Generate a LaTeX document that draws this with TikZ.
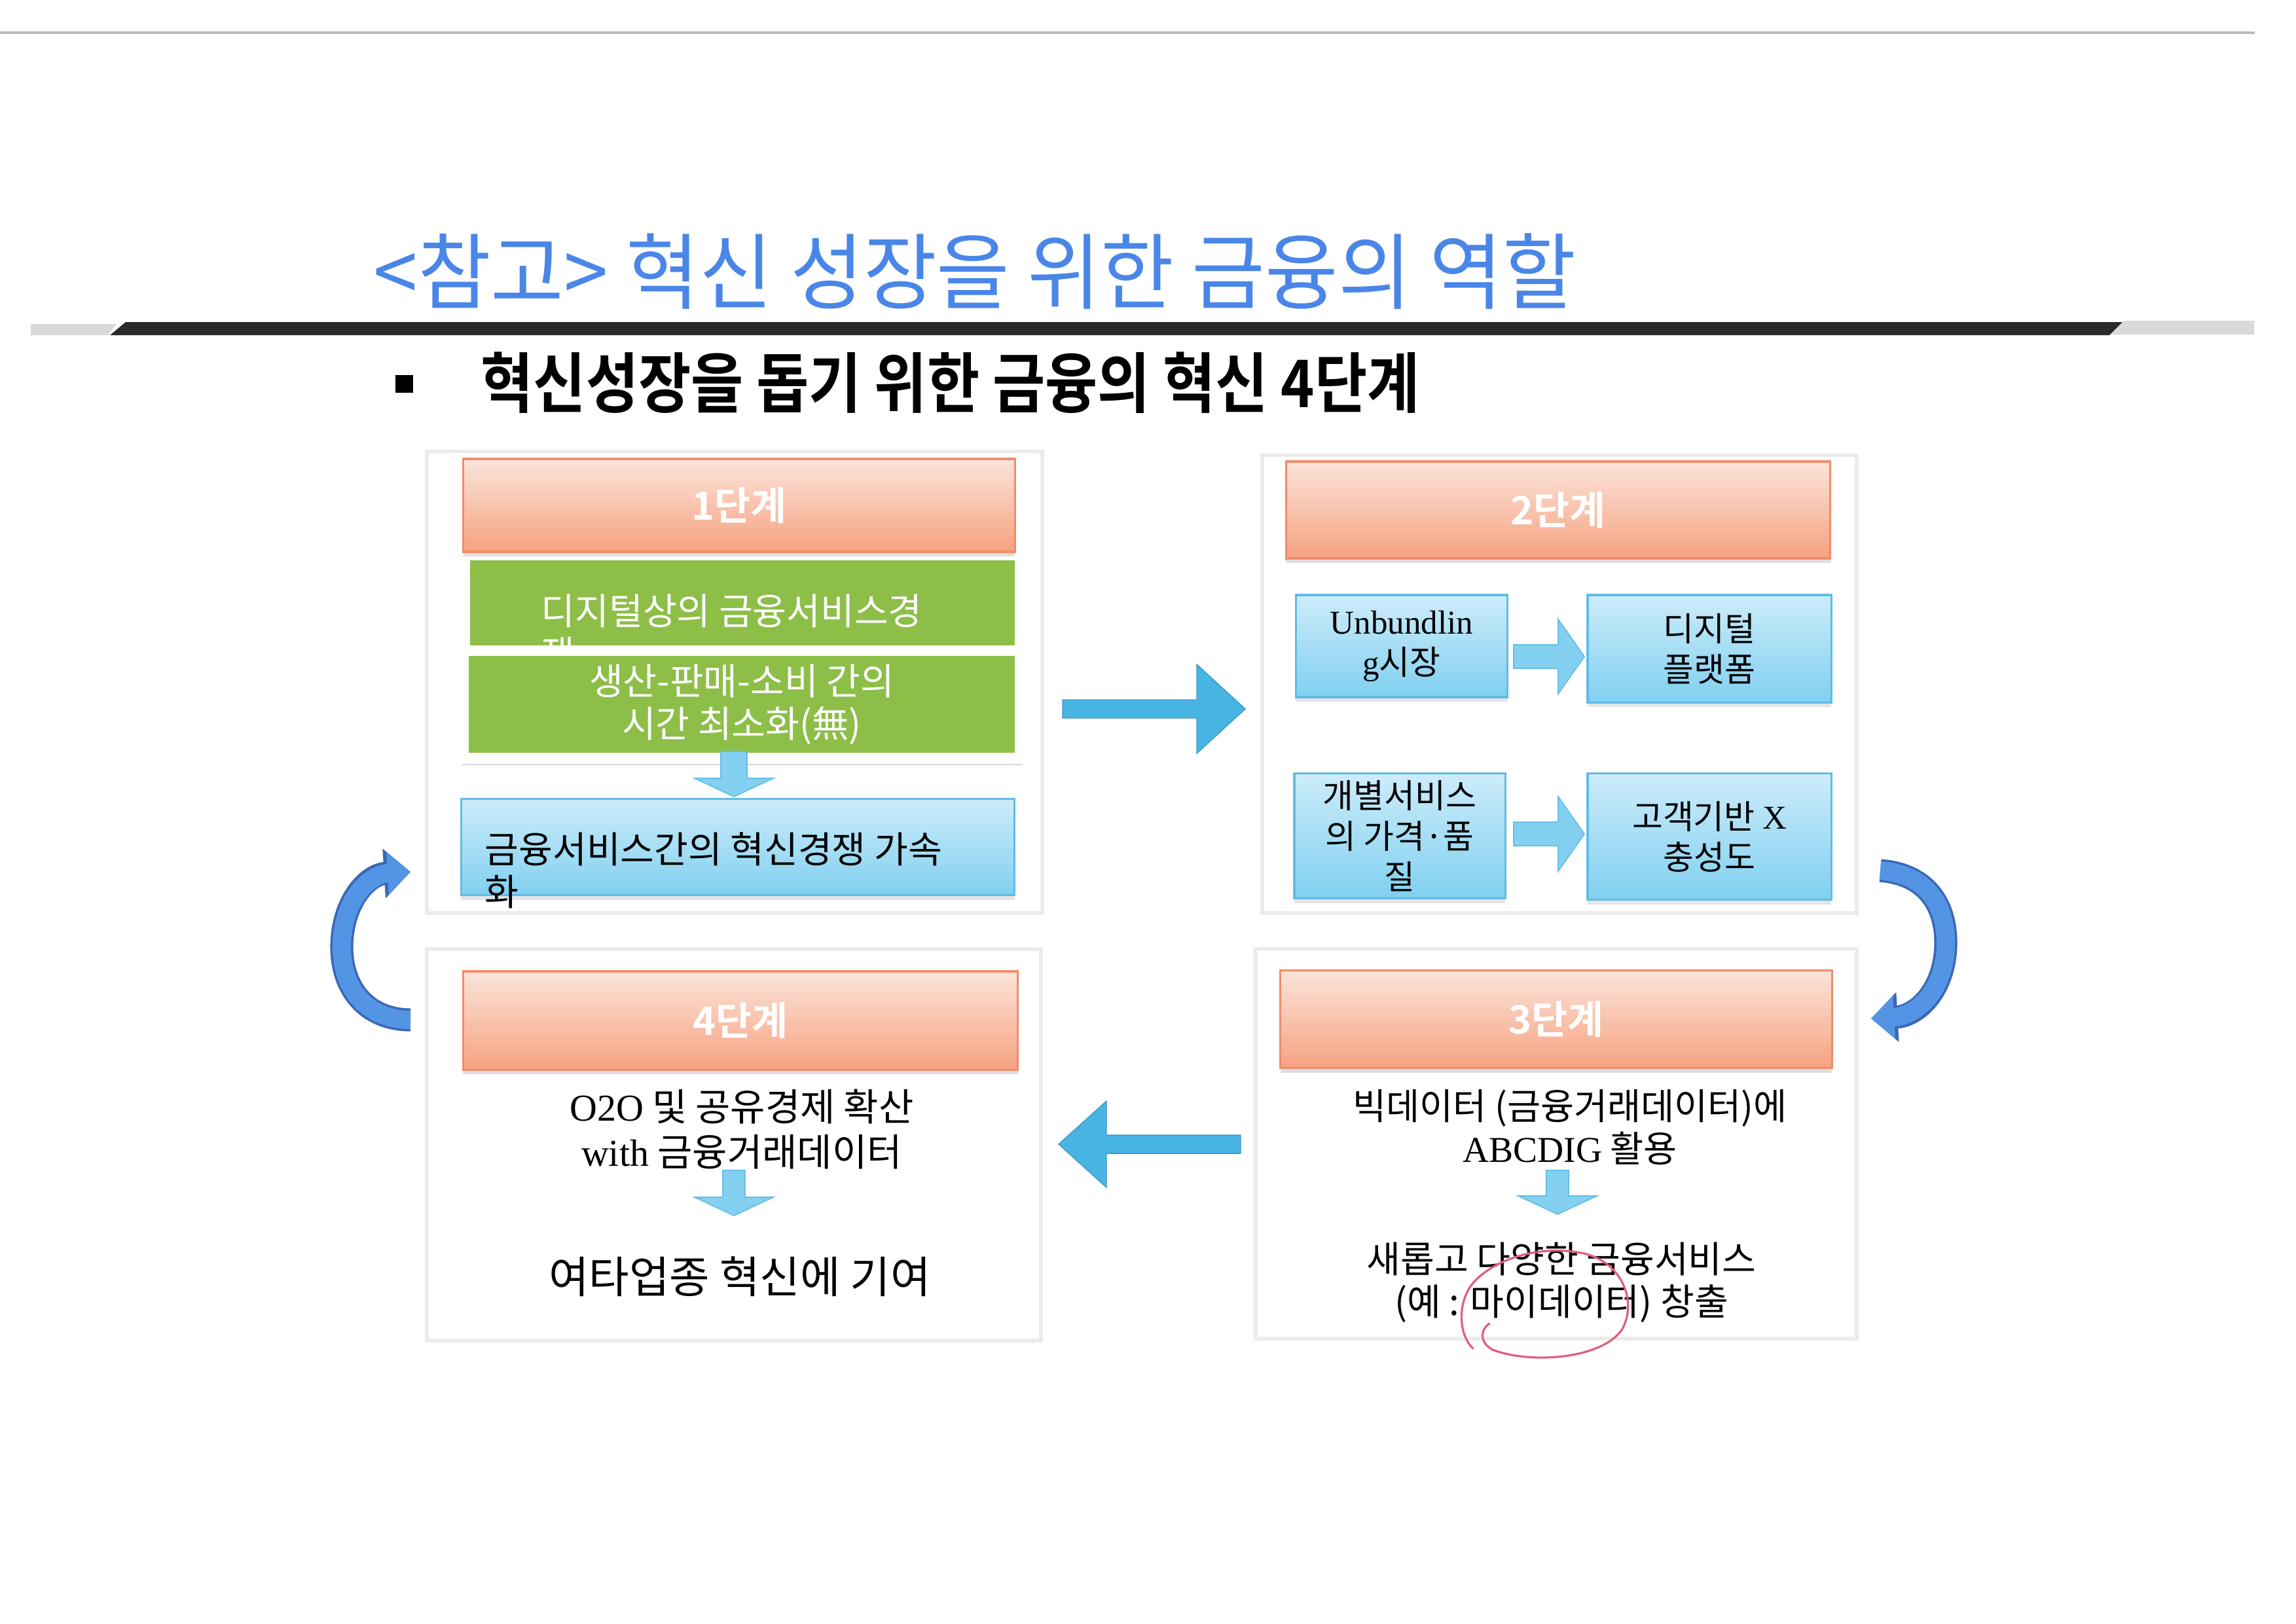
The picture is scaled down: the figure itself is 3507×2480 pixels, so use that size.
\documentclass[tikz,border=0pt]{standalone}
\usepackage{fontspec}
\setmainfont{Noto Sans CJK KR}[BoldFont={Noto Sans CJK KR Bold}]
\newfontfamily\titlefont{Noto Sans CJK KR}[FakeStretch=0.96]
\newfontfamily\subfont{Noto Sans CJK KR Bold}[FakeStretch=0.87]
\newfontfamily\latfont{Liberation Serif}
\usetikzlibrary{arrows.meta, calc, shadows}
\definecolor{titleblue}{RGB}{74,134,232}
\definecolor{bardark}{RGB}{42,42,44}
\definecolor{hdrtop}{RGB}{251,228,218}
\definecolor{hdrbot}{RGB}{246,162,128}
\definecolor{hdrline}{RGB}{240,140,108}
\definecolor{boxgreen}{RGB}{141,190,72}
\definecolor{boxtop}{RGB}{205,236,250}
\definecolor{boxbot}{RGB}{128,208,240}
\definecolor{boxline}{RGB}{98,188,228}
\definecolor{arrowfill}{RGB}{132,208,240}
\definecolor{arrowline}{RGB}{100,190,232}
\definecolor{bigfill}{RGB}{72,180,228}
\definecolor{curvefill}{RGB}{84,148,228}
\definecolor{curveline}{RGB}{58,104,180}
\definecolor{penred}{RGB}{226,92,122}

% block arrow: style, start, angle, length, shaft half, head half, head length
\newcommand{\blockarrow}[7][smallarrow]{%
  \begin{scope}[shift={#2}, rotate=#3]
    \filldraw[#1] (0,-#5) -- ({#4-#7},-#5) -- ({#4-#7},-#6) -- (#4,0)
      -- ({#4-#7},#6) -- ({#4-#7},#5) -- (0,#5) -- cycle;
  \end{scope}}

\tikzset{
  panel/.style={draw=gray!16, line width=1.6pt, fill=white, inner sep=0pt},
  stagehead/.style={draw=hdrline, line width=0.9pt, top color=hdrtop, bottom color=hdrbot,
    text=white, font=\fontsize{17}{20}\selectfont\bfseries, inner sep=0pt,
    drop shadow={opacity=0.25, shadow xshift=0pt, shadow yshift=-2pt}},
  greenbox/.style={fill=boxgreen, inner sep=0pt},
  bluebox/.style={draw=boxline, line width=0.9pt, top color=boxtop, bottom color=boxbot,
    inner sep=0pt, drop shadow={opacity=0.2, shadow xshift=0pt, shadow yshift=-2pt}},
  bodytext/.style={font=\fontsize{14.5}{17.6}\selectfont, align=center, inner sep=0pt},
  largetext/.style={font=\fontsize{16}{18.5}\selectfont},
  smallarrow/.style={fill=arrowfill, draw=arrowline, line width=0.5pt},
  bigarrow/.style={fill=bigfill, draw=bigfill!85!black, line width=0.4pt},
  curvearrow/.style={draw=curvefill, line width=8pt, -{Triangle[length=10pt, width=18pt]},
    preaction={draw=curveline, line width=10pt, -{Triangle[length=11.5pt, width=21pt]}}},
}

\begin{document}
\begin{tikzpicture}[x=0.01cm, y=-0.01cm]
  \useasboundingbox (0,0) rectangle (3507,2480);

  % page rule, title and bar
  \draw[gray!55, line width=1pt] (0,50) -- (3444,50);
  \node[anchor=base west, text=titleblue, font=\titlefont\fontsize{36}{40}\selectfont, inner sep=0pt]
        (title) at (570,462) {<참고> 혁신 성장을 위한 금융의 역할};
  \fill[gray!30] (47,495) -- (178,495) -- (165,512) -- (47,512) -- cycle;
  \fill[bardark] (192,492) -- (3242,492) -- (3222,512) -- (168,512) -- cycle;
  \fill[gray!30] (3244,490) -- (3443,490) -- (3443,511) -- (3224,511) -- cycle;
  \node[fill=black, minimum size=0.27cm, inner sep=0pt] (bullet) at (617,586) {};
  \node[anchor=base west, font=\subfont\fontsize{28.5}{32}\selectfont, inner sep=0pt]
        (subtitle) at (734,622) {혁신성장을 돕기 위한 금융의 혁신 4단계};

  % four stage panels
  \node[panel, minimum width=9.40cm, minimum height=7.05cm] (stage1) at (1122,1042) {};
  \node[panel, minimum width=9.07cm, minimum height=6.99cm] (stage2) at (2382,1045) {};
  \node[panel, minimum width=9.38cm, minimum height=5.98cm] (stage4) at (1121,1749) {};
  \node[panel, minimum width=9.17cm, minimum height=5.95cm] (stage3) at (2377,1747) {};

  \node[stagehead, minimum width=8.42cm, minimum height=1.42cm] (head1) at (1129,772) {1단계};
  \node[stagehead, minimum width=8.31cm, minimum height=1.48cm] (head2) at (2380,779) {2단계};
  \node[stagehead, minimum width=8.47cm, minimum height=1.50cm] (head4) at (1131,1559) {4단계};
  \node[stagehead, minimum width=8.42cm, minimum height=1.49cm] (head3) at (2377,1557) {3단계};

  % stage 1
  \node[greenbox, minimum width=8.32cm, minimum height=1.29cm] (green1) at (1134,921) {};
  \node[bodytext, largetext, text=white, anchor=west, align=left] (green1txt) at (826,966)
        {디지털상의 금융서비스경\\쟁};
  \node[greenbox, bodytext, largetext, text=white, minimum width=8.33cm, minimum height=1.47cm]
        (green2) at (1133,1076) {생산-판매-소비 간의\\시간 최소화(無)};
  \draw[gray!30, line width=0.6pt] (705,1168) -- (1562,1168);
  \coordinate (dn1) at (1121,1148);
  \blockarrow{(dn1)}{-90}{69}{20}{60}{28}
  \node[bluebox, minimum width=8.45cm, minimum height=1.47cm] (blue1) at (1127,1294) {};
  \node[bodytext, largetext, anchor=west, align=left] (blue1txt) at (740,1330)
        {금융서비스간의 혁신경쟁 가속\\화};

  % stage 2
  \node[bluebox, bodytext, minimum width=3.23cm, minimum height=1.56cm] (unbundle) at (2141,987)
        {{\latfont Unbundlin}\\{\latfont g}시장};
  \node[bluebox, bodytext, minimum width=3.72cm, minimum height=1.64cm] (platform) at (2611,991)
        {디지털\\플랫폼};
  \node[bluebox, bodytext, minimum width=3.22cm, minimum height=1.91cm] (service) at (2138,1277)
        {개별서비스\\의 가격·품\\질};
  \node[bluebox, bodytext, minimum width=3.72cm, minimum height=1.93cm] (loyalty) at (2611,1278)
        {고객기반 {\latfont X}\\충성도};
  \coordinate (rt1) at (2312,1003);
  \coordinate (rt2) at (2312,1274);
  \blockarrow{(rt1)}{0}{108}{18}{57}{40}
  \blockarrow{(rt2)}{0}{108}{18}{57}{40}

  % stage 3
  \node[bodytext, font=\fontsize{15.8}{18.5}\selectfont] (bigdata) at (2398,1722)
        {빅데이터 (금융거래데이터)에\\{\latfont ABCDIG} 활용};
  \coordinate (dn3) at (2379,1788);
  \blockarrow{(dn3)}{-90}{67}{17}{60}{28}
  \node[bodytext, font=\fontsize{16}{18.5}\selectfont] (newsvc) at (2385,1959)
        {새롭고 다양한 금융서비스\\(예 : 마이데이터) 창출};
  \draw[penred, line width=0.9pt, line cap=round]
    (2275,2022) .. controls (2262,2030) and (2258,2050) .. (2280,2062)
    .. controls (2340,2085) and (2450,2075) .. (2478,2030)
    .. controls (2500,1990) and (2480,1930) .. (2420,1915)
    .. controls (2350,1900) and (2280,1925) .. (2250,1960)
    .. controls (2225,1990) and (2228,2040) .. (2250,2060);

  % stage 4
  \node[bodytext, font=\fontsize{16.5}{19.5}\selectfont] (o2o) at (1133,1725)
        {{\latfont O2O} 및 공유경제 확산\\{\latfont with} 금융거래데이터};
  \coordinate (dn4) at (1121,1788);
  \blockarrow{(dn4)}{-90}{69}{17}{60}{28}
  \node[bodytext, font=\fontsize{19}{22}\selectfont] (others) at (1130,1950)
        {여타업종 혁신에 기여};

  % arrows between the stages
  \coordinate (go12) at (1623,1083);
  \coordinate (go34) at (1895,1748);
  \blockarrow[bigarrow]{(go12)}{0}{279}{14}{68}{74}
  \blockarrow[bigarrow]{(go34)}{180}{278}{14}{66}{73}
  \draw[curvearrow] (2872,1330) .. controls (2940,1335) and (2972,1380) .. (2972,1440)
        .. controls (2972,1510) and (2930,1552) .. (2858,1556);
  \draw[curvearrow] (627,1558) .. controls (560,1558) and (522,1510) .. (522,1447)
        .. controls (522,1380) and (560,1336) .. (627,1332);
\end{tikzpicture}
\end{document}
